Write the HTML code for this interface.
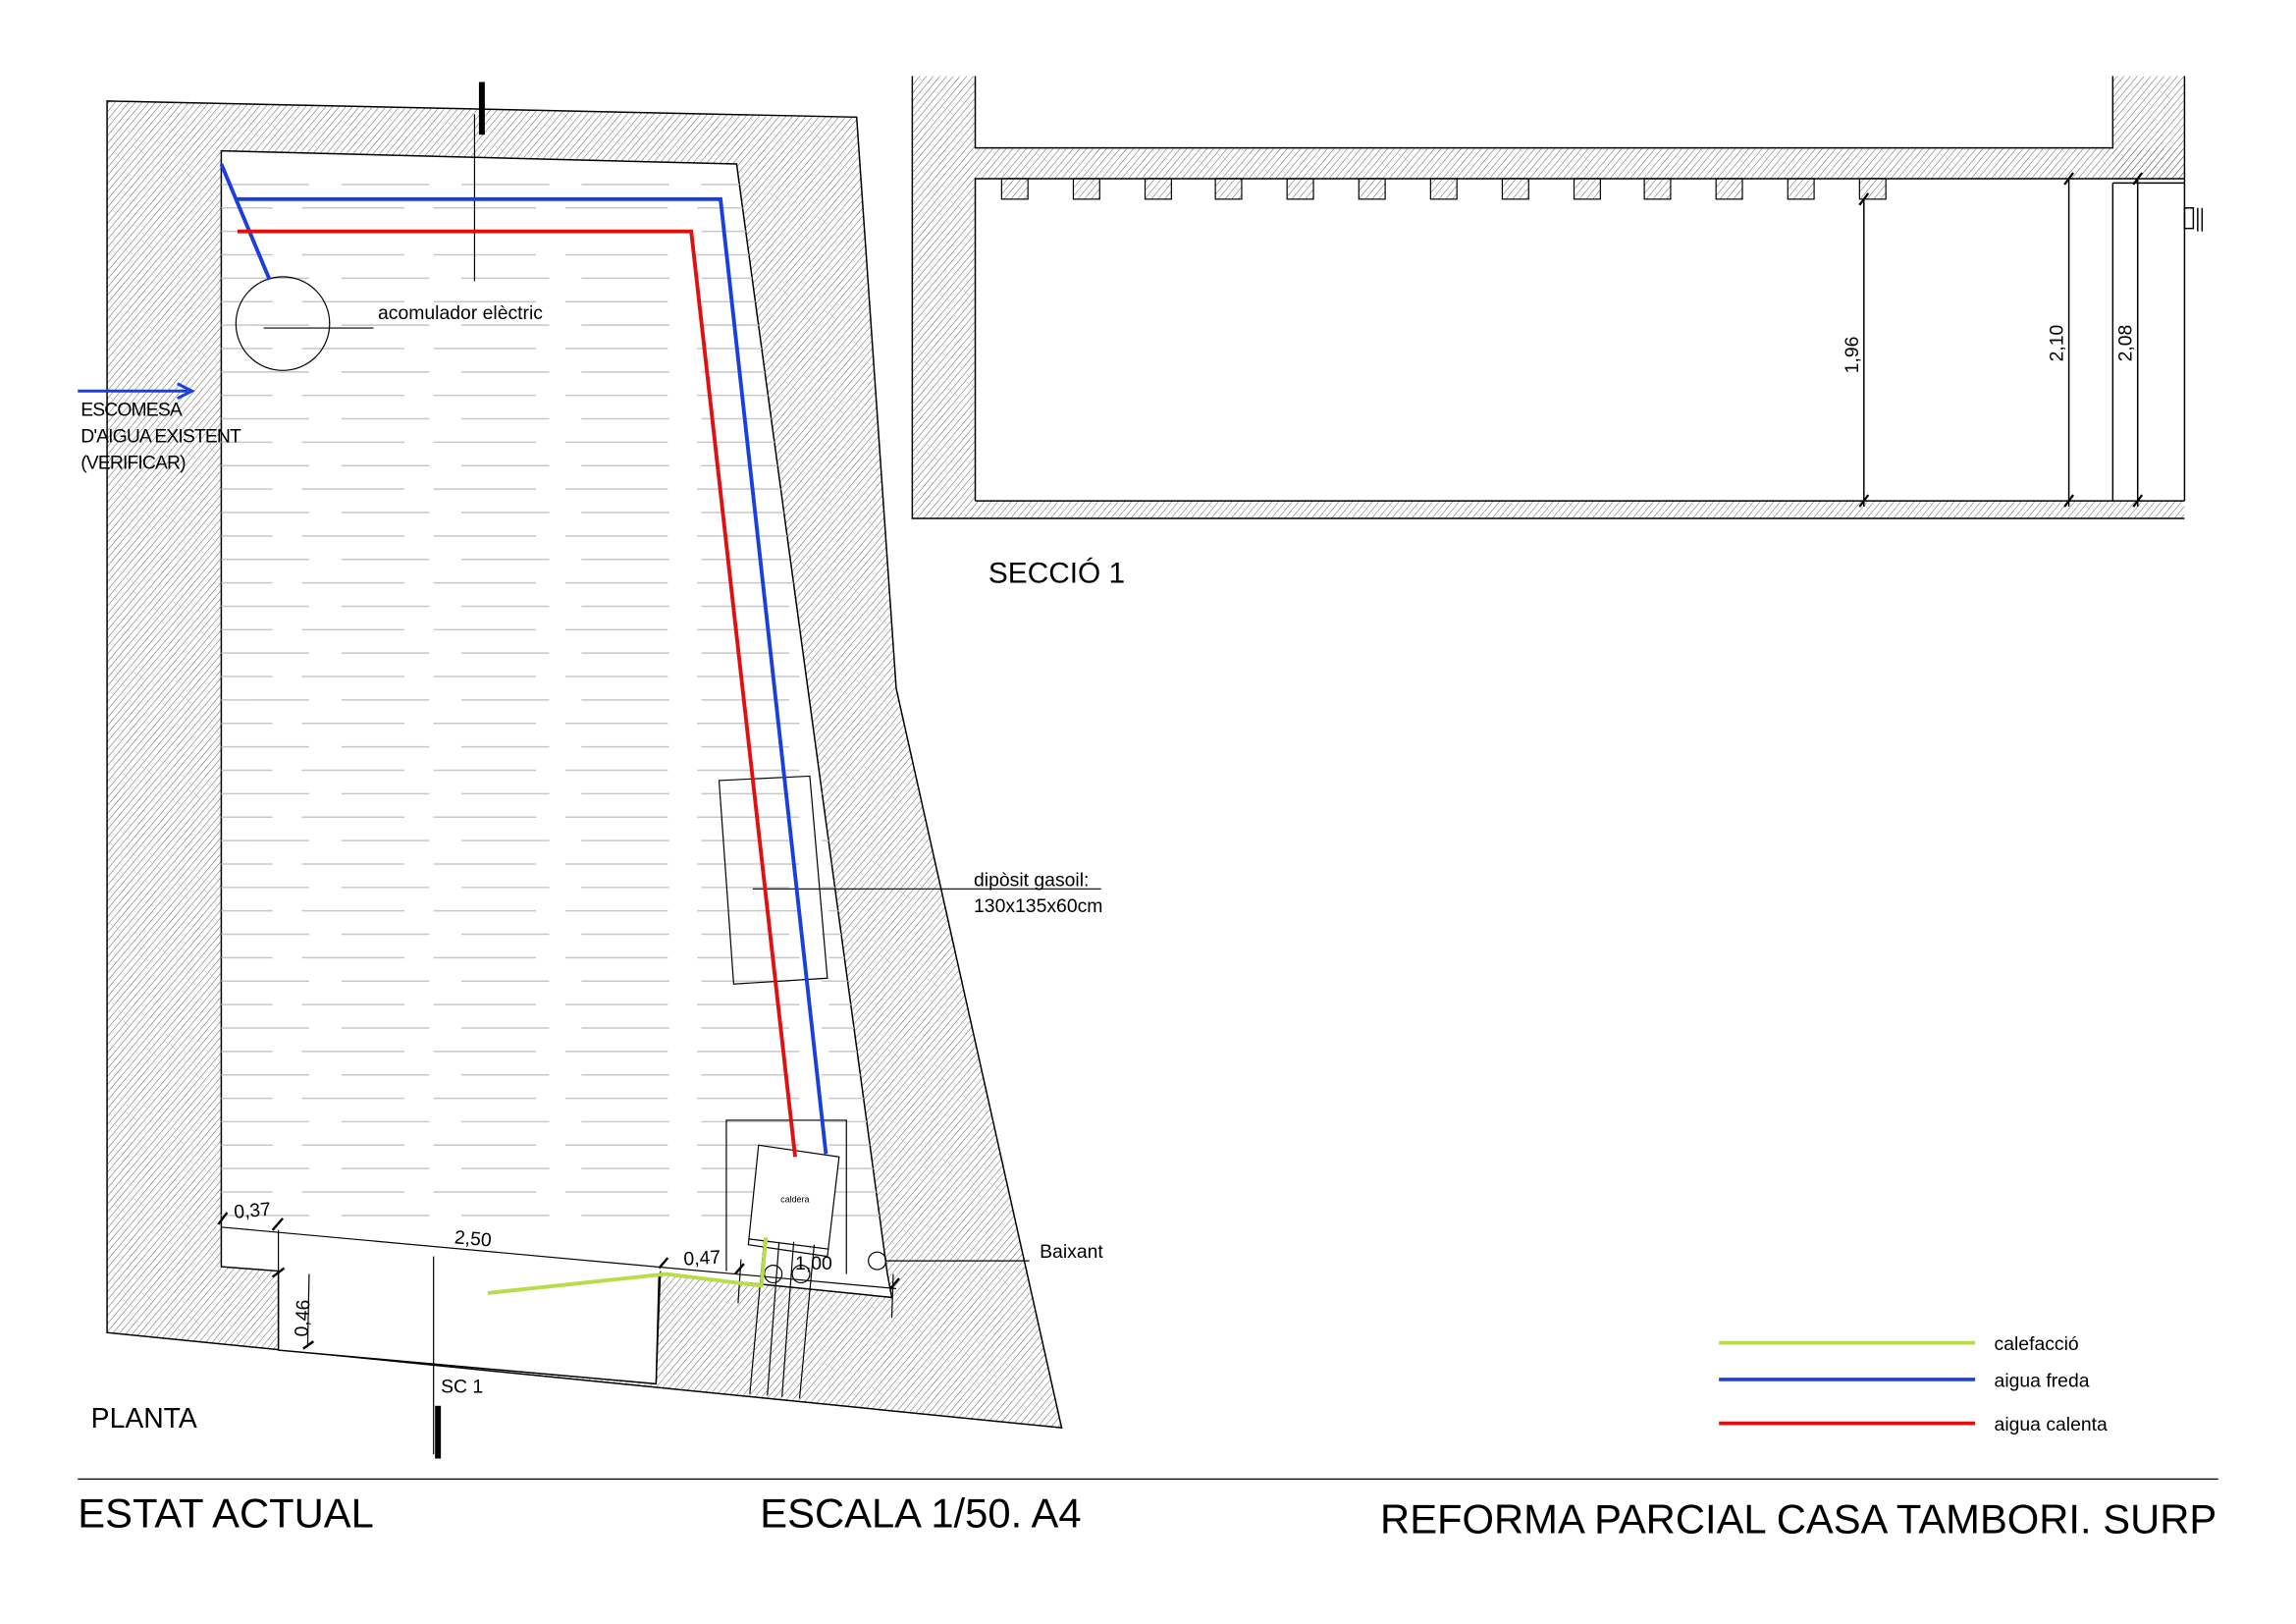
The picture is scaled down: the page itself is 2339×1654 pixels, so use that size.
<!DOCTYPE html>
<html><head><meta charset="utf-8"><style>html,body{margin:0;padding:0;background:#fff}svg{display:block}text{font-family:"Liberation Sans",sans-serif;fill:#000}</style></head>
<body>
<svg width="2339" height="1654" viewBox="0 0 1568 1109" xmlns="http://www.w3.org/2000/svg">
<defs>
<pattern id="h" patternUnits="userSpaceOnUse" width="3.5" height="3.5" patternTransform="rotate(40)">
<line x1="0" y1="0" x2="0" y2="3.5" stroke="#666" stroke-width="0.7"/>
</pattern>
<clipPath id="room"><polygon points="151,103 503,112 606,870 451,860 151,838"/></clipPath>
</defs>
<rect width="1568" height="1109" fill="#fff"/>
<!-- PLAN -->
<polygon points="73,69 585,80 612,470 725,975 73,910" fill="url(#h)" stroke="#000" stroke-width="1"/>
<polygon points="151,103 503,112 606,870 609,886 450,870 448,945 190,922 190,868 151,865" fill="#fff" stroke="#000" stroke-width="1"/>
<g clip-path="url(#room)" stroke="#c8c8c8" stroke-width="1">
<g stroke-dasharray="60 22">
<line x1="151" y1="126" x2="610" y2="126"/><line x1="151" y1="158" x2="610" y2="158"/><line x1="151" y1="190" x2="610" y2="190"/><line x1="151" y1="222" x2="610" y2="222"/><line x1="151" y1="254" x2="610" y2="254"/><line x1="151" y1="286" x2="610" y2="286"/><line x1="151" y1="318" x2="610" y2="318"/><line x1="151" y1="350" x2="610" y2="350"/><line x1="151" y1="382" x2="610" y2="382"/><line x1="151" y1="414" x2="610" y2="414"/><line x1="151" y1="446" x2="610" y2="446"/><line x1="151" y1="478" x2="610" y2="478"/><line x1="151" y1="510" x2="610" y2="510"/><line x1="151" y1="542" x2="610" y2="542"/><line x1="151" y1="574" x2="610" y2="574"/><line x1="151" y1="606" x2="610" y2="606"/><line x1="151" y1="638" x2="610" y2="638"/><line x1="151" y1="670" x2="610" y2="670"/><line x1="151" y1="702" x2="610" y2="702"/><line x1="151" y1="734" x2="610" y2="734"/><line x1="151" y1="766" x2="610" y2="766"/><line x1="151" y1="798" x2="610" y2="798"/><line x1="151" y1="830" x2="610" y2="830"/>
</g>
<g stroke-dasharray="70 20" stroke-dashoffset="35">
<line x1="151" y1="142" x2="610" y2="142"/><line x1="151" y1="174" x2="610" y2="174"/><line x1="151" y1="206" x2="610" y2="206"/><line x1="151" y1="238" x2="610" y2="238"/><line x1="151" y1="270" x2="610" y2="270"/><line x1="151" y1="302" x2="610" y2="302"/><line x1="151" y1="334" x2="610" y2="334"/><line x1="151" y1="366" x2="610" y2="366"/><line x1="151" y1="398" x2="610" y2="398"/><line x1="151" y1="430" x2="610" y2="430"/><line x1="151" y1="462" x2="610" y2="462"/><line x1="151" y1="494" x2="610" y2="494"/><line x1="151" y1="526" x2="610" y2="526"/><line x1="151" y1="558" x2="610" y2="558"/><line x1="151" y1="590" x2="610" y2="590"/><line x1="151" y1="622" x2="610" y2="622"/><line x1="151" y1="654" x2="610" y2="654"/><line x1="151" y1="686" x2="610" y2="686"/><line x1="151" y1="718" x2="610" y2="718"/><line x1="151" y1="750" x2="610" y2="750"/><line x1="151" y1="782" x2="610" y2="782"/><line x1="151" y1="814" x2="610" y2="814"/>
</g>
</g>
<g stroke="#000" stroke-width="0.8" fill="none">
<line x1="151" y1="838" x2="612" y2="880"/>
<line x1="190" y1="840" x2="190" y2="922"/>
<line x1="451" y1="868" x2="448" y2="945"/>
<polyline points="496,868 496,765 578,765 578,870"/>
<polygon points="518,782 573,790 565,858 511,850" fill="#fff"/>
<line x1="511" y1="846" x2="566" y2="853"/>
<line x1="522" y1="846" x2="512" y2="952"/><line x1="532" y1="848" x2="524" y2="953"/><line x1="542" y1="848" x2="534" y2="954"/><line x1="556" y1="850" x2="546" y2="955"/>
<circle cx="528" cy="870" r="6"/><circle cx="547" cy="870" r="6"/>
<circle cx="599" cy="861" r="6"/>
<line x1="605" y1="861" x2="703" y2="861"/>
<polygon points="491,533 553,530 565,668 501,672"/>
<line x1="514" y1="607" x2="752" y2="607"/>
<circle cx="193" cy="221" r="32"/>
<line x1="180" y1="224" x2="225" y2="224"/><line x1="225" y1="224" x2="255" y2="224"/>
<line x1="324" y1="78" x2="324" y2="192"/>
<line x1="296" y1="858" x2="296" y2="993"/>
<line x1="506" y1="860" x2="504" y2="890"/><line x1="610" y1="870" x2="609" y2="900"/>
</g>
<g stroke="#000" stroke-width="1.6">
<line x1="149" y1="836" x2="155" y2="828"/><line x1="186" y1="840" x2="193" y2="832"/>
<line x1="450" y1="866" x2="456" y2="859"/><line x1="502" y1="870" x2="508" y2="863"/><line x1="608" y1="880" x2="614" y2="873"/>
<line x1="186" y1="872" x2="194" y2="866"/><line x1="207" y1="921" x2="214" y2="916"/>
</g>
<line x1="211" y1="870" x2="210" y2="920" stroke="#000" stroke-width="0.8"/>
<rect x="327" y="56" width="4" height="36" fill="#000"/>
<rect x="297" y="960" width="4" height="36" fill="#000"/>
<!-- pipes -->
<polyline points="151,112 184,191" fill="none" stroke="#1a3fe0" stroke-width="2.6"/>
<polyline points="162,136 492,136 564,788" fill="none" stroke="#1a3fe0" stroke-width="2.6"/>
<polyline points="162,158 472,158 543,790" fill="none" stroke="#e01010" stroke-width="2.6"/>
<polyline points="333,883 455,870 520,878 523,845" fill="none" stroke="#b7dd4a" stroke-width="2.6"/>
<line x1="53" y1="267" x2="128" y2="267" stroke="#1a3fe0" stroke-width="2"/>
<polyline points="121,262 131,267 121,272" fill="none" stroke="#1a3fe0" stroke-width="2"/>
<!-- plan text -->
<text x="258" y="218" font-size="13">acomulador elèctric</text>
<text x="55" y="284" font-size="13" letter-spacing="-0.6">ESCOMESA</text>
<text x="55" y="302" font-size="13" letter-spacing="-0.6">D'AIGUA EXISTENT</text>
<text x="55" y="320" font-size="13" letter-spacing="-0.6">(VERIFICAR)</text>
<text x="665" y="605" font-size="13">dipòsit gasoil:</text>
<text x="665" y="623" font-size="13">130x135x60cm</text>
<text x="710" y="859" font-size="13">Baixant</text>
<text x="533" y="821" font-size="6">caldera</text>
<text x="160" y="832" font-size="13" transform="rotate(-5 160 832)">0,37</text>
<text x="310" y="849" font-size="13" transform="rotate(5 310 849)">2,50</text>
<text x="467" y="864" font-size="13" transform="rotate(-3 467 864)">0,47</text>
<text x="543" y="867" font-size="13">1,00</text>
<text x="210" y="913" font-size="13" transform="rotate(-87 210 913)">0,46</text>
<text x="301" y="951" font-size="13">SC 1</text>
<text x="62" y="975" font-size="19">PLANTA</text>
<!-- SECTION -->
<rect x="623" y="52" width="43" height="302" fill="url(#h)"/>
<rect x="1443" y="52" width="49" height="70" fill="url(#h)"/>
<rect x="666" y="101" width="826" height="21" fill="url(#h)"/>
<rect x="666" y="342" width="826" height="12" fill="url(#h)"/>
<g stroke="#000" stroke-width="1" fill="none">
<polyline points="623,52 623,354 1492,354"/>
<polyline points="666,52 666,101 1443,101 1443,52"/>
<line x1="1492" y1="52" x2="1492" y2="122"/>
<polyline points="666,342 666,122 1492,122"/>
<line x1="666" y1="342" x2="1492" y2="342"/>
<line x1="1492" y1="122" x2="1492" y2="342"/>
<line x1="1443" y1="125" x2="1492" y2="125"/>
<line x1="1443" y1="125" x2="1443" y2="342"/>
<line x1="1273" y1="136" x2="1273" y2="346"/>
<line x1="1413" y1="122" x2="1413" y2="346"/>
<line x1="1460" y1="122" x2="1460" y2="346"/>
<rect x="1492" y="142" width="6" height="14"/><line x1="1501" y1="142" x2="1501" y2="158"/><line x1="1504" y1="142" x2="1504" y2="158"/>
</g>
<g stroke="#000" stroke-width="0.8" fill="url(#h)">
<rect x="684" y="122" width="18" height="14"/><rect x="733" y="122" width="18" height="14"/><rect x="782" y="122" width="18" height="14"/><rect x="830" y="122" width="18" height="14"/><rect x="879" y="122" width="18" height="14"/><rect x="928" y="122" width="18" height="14"/><rect x="977" y="122" width="18" height="14"/><rect x="1026" y="122" width="18" height="14"/><rect x="1075" y="122" width="18" height="14"/><rect x="1123" y="122" width="18" height="14"/><rect x="1172" y="122" width="18" height="14"/><rect x="1221" y="122" width="18" height="14"/><rect x="1270" y="122" width="18" height="14"/>
</g>
<g stroke="#000" stroke-width="1.5">
<line x1="1270" y1="140" x2="1276" y2="132"/><line x1="1270" y1="346" x2="1276" y2="338"/>
<line x1="1410" y1="126" x2="1416" y2="118"/><line x1="1410" y1="346" x2="1416" y2="338"/>
<line x1="1457" y1="126" x2="1463" y2="118"/><line x1="1457" y1="346" x2="1463" y2="338"/>
</g>
<text font-size="13" transform="translate(1269 255) rotate(-90)">1,96</text>
<text font-size="13" transform="translate(1409 247) rotate(-90)">2,10</text>
<text font-size="13" transform="translate(1456 247) rotate(-90)">2,08</text>
<text x="675" y="398" font-size="20">SECCIÓ 1</text>
<!-- legend -->
<line x1="1174" y1="917" x2="1349" y2="917" stroke="#b7dd4a" stroke-width="2.5"/>
<line x1="1174" y1="942" x2="1349" y2="942" stroke="#1a3fe0" stroke-width="2.5"/>
<line x1="1174" y1="972" x2="1349" y2="972" stroke="#e01010" stroke-width="2.5"/>
<text x="1362" y="922" font-size="13">calefacció</text>
<text x="1362" y="947" font-size="13">aigua freda</text>
<text x="1362" y="977" font-size="13">aigua calenta</text>
<!-- title block -->
<line x1="53" y1="1010" x2="1515" y2="1010" stroke="#000" stroke-width="0.8"/>
<text x="53" y="1043" font-size="28">ESTAT ACTUAL</text>
<text x="519" y="1043" font-size="28">ESCALA 1/50. A4</text>
<text x="1514" y="1047" font-size="28" text-anchor="end">REFORMA PARCIAL CASA TAMBORI. SURP</text>
</svg>
</body></html>
